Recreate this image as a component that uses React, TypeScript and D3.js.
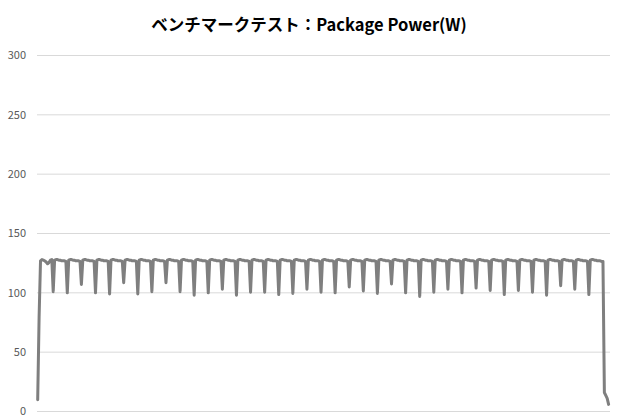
import React from 'react'
import * as d3 from 'd3'

// samples before the first dip (power ramps up from idle)
const rampIn = [10, 80, 127, 128, 127.5, 127, 126, 124.5, 125.5, 127.5, 128]

// lowest value of each periodic dip, left to right
const dipLows = [
  101, 100, 107, 100, 99, 108.5, 99, 101, 108.5, 101, 98, 100, 103,
  98, 100.5, 100.5, 98.5, 99.5, 103, 100.5, 100, 105, 101.5, 99.5, 107.5, 100,
  97, 100.5, 103, 100, 104, 102, 98.5, 102, 100.5, 98, 106, 103, 98.5,
]

// plateau between two dips
const plateau = [127.5, 128, 128, 127.5, 127.5, 127, 127, 127, 126.5]

// after the last dip: plateau then drop back to idle
const rampOut = [127.5, 128, 128, 127.5, 127.5, 127, 127, 127, 126.5, 126.5, 16, 13.5, 11, 6]

const yTicks = [0, 50, 100, 150, 200, 250, 300]
const title = 'ベンチマークテスト：Package Power(W)'

const series: number[] = [...rampIn]
dipLows.forEach((d, i) => {
  series.push(d)
  if (i < dipLows.length - 1) series.push(...plateau)
})
series.push(...rampOut)

const width = 620
const height = 420
const plot = { left: 37, right: 610, top: 55.5, bottom: 411.5 }

const App: React.FC = () => {
  const x = d3.scaleLinear().domain([0, series.length - 1]).range([37.7, 608.6])
  const y = d3.scaleLinear().domain([0, 300]).range([plot.bottom, plot.top])

  const line = d3.line<number>()
    .x((_, i) => x(i))
    .y(d => y(d))

  return (
    <div style={{ position: 'absolute', left: 0, top: 0 }}>
      <svg width={width} height={height} style={{ display: 'block', background: '#fff' }}>
        <text
          x={309}
          y={30.5}
          textAnchor="middle"
          fontFamily="'Noto Sans CJK JP', sans-serif"
          fontWeight="bold"
          fontSize={16.5}
          fill="#000"
        >
          {title}
        </text>
        {yTicks.map(t => (
          <g key={t}>
            <line x1={plot.left} x2={plot.right} y1={y(t)} y2={y(t)} stroke="#d9d9d9" strokeWidth={1} />
            <text
              x={26}
              y={y(t)}
              dy="0.35em"
              textAnchor="end"
              fontFamily="'Noto Sans CJK JP', sans-serif"
              fontSize={11}
              fill="#595959"
            >
              {t}
            </text>
          </g>
        ))}
        <path
          d={line(series) ?? ''}
          fill="none"
          stroke="#7f7f7f"
          strokeWidth={3}
          strokeLinejoin="round"
          strokeLinecap="round"
        />
      </svg>
    </div>
  )
}

export default App
